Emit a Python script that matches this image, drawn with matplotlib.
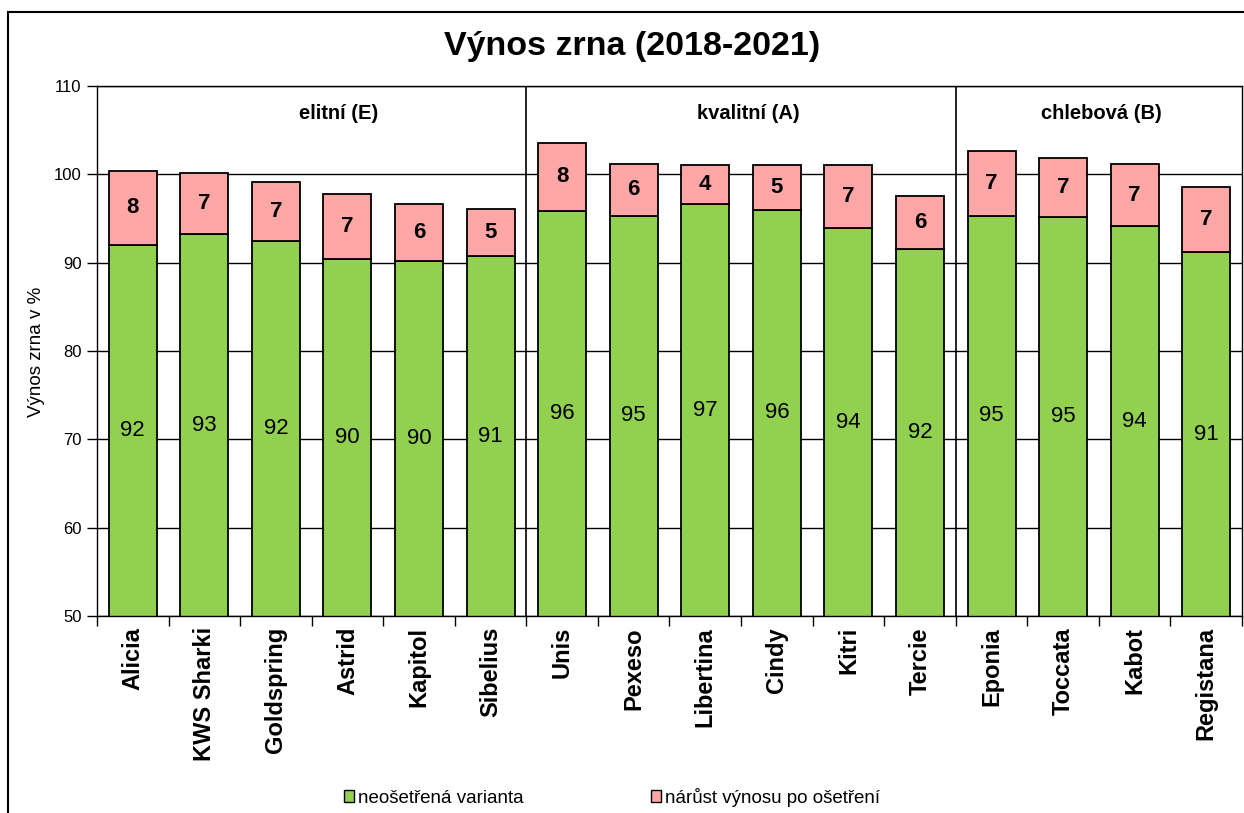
import matplotlib
matplotlib.use("Agg")
import matplotlib.pyplot as plt
from matplotlib.patches import Patch, Rectangle

plt.rcParams["font.family"] = ["Liberation Sans", "DejaVu Sans"]

# data
varieties = ["Alicia", "KWS Sharki", "Goldspring", "Astrid", "Kapitol", "Sibelius",
             "Unis", "Pexeso", "Libertina", "Cindy", "Kitri", "Tercie",
             "Eponia", "Toccata", "Kabot", "Registana"]
untreated = [92.0, 93.2, 92.4, 90.4, 90.2, 90.7,
             95.8, 95.3, 96.6, 96.0, 93.9, 91.6,
             95.3, 95.2, 94.1, 91.2]
increase = [8.4, 6.9, 6.7, 7.4, 6.4, 5.4,
            7.8, 5.9, 4.4, 5.0, 7.1, 5.9,
            7.3, 6.6, 7.1, 7.4]
groups = ["elitní (E)", "kvalitní (A)", "chlebová (B)"]
group_sizes = [6, 6, 4]
series_names = ["neošetřená varianta", "nárůst výnosu po ošetření"]

green = "#92D050"
pink = "#FFA6A6"

W, H = 1244, 813
fig = plt.figure(figsize=(W / 100, H / 100), dpi=100)
ax = fig.add_axes([97 / W, 1 - 616 / H, (1242 - 97) / W, (616 - 86) / H])

x = list(range(len(varieties)))
ax.bar(x, untreated, width=0.67, bottom=0, color=green, edgecolor="black", linewidth=1.3, zorder=2)
ax.bar(x, increase, width=0.67, bottom=untreated, color=pink, edgecolor="black", linewidth=1.3, zorder=2)

ax.set_ylim(50, 110)
ax.set_xlim(-0.5, len(varieties) - 0.5)
ax.set_yticks(range(50, 111, 10))
ax.yaxis.grid(True, color="black", linewidth=1)
ax.set_axisbelow(True)
for s in ax.spines.values():
    s.set_linewidth(1)

# value labels
for i in x:
    ax.text(i, (50 + untreated[i]) / 2, f"{untreated[i]:.0f}", ha="center", va="center",
            fontsize=16, zorder=3)
    ax.text(i, untreated[i] + increase[i] / 2, f"{increase[i]:.0f}", ha="center", va="center",
            fontsize=16, fontweight="bold", zorder=3)

# group separators and names
edge = -0.5
label_x = [2.88, 8.60, 13.53]
for k, (name, size) in enumerate(zip(groups, group_sizes)):
    if k > 0:
        ax.axvline(edge, color="black", linewidth=1.2, zorder=1)
    ax.text(label_x[k], 106.9, name, ha="center", va="center", fontsize=14.5, fontweight="bold")
    edge += size

# x axis: labels at bars, ticks between bars
ax.set_xticks(x)
ax.set_xticklabels(varieties, rotation=90, fontsize=17, fontweight="bold")
ax.set_xticks([i - 0.5 for i in range(len(varieties) + 1)], minor=True)
ax.tick_params(axis="x", which="major", length=0, pad=8)
ax.tick_params(axis="x", which="minor", length=7, width=1)
ax.tick_params(axis="y", length=7, width=1, labelsize=12, pad=4)

ax.set_ylabel("Výnos zrna v %", fontsize=13.5)
ax.yaxis.set_label_coords(-(97 - 45) / (1242 - 97), (616 - 352) / (616 - 86))

fig.text(632 / W, 1 - 47 / H, "Výnos zrna (2018-2021)", ha="center", va="center",
         fontsize=24.5, fontweight="bold")

handles = [Patch(facecolor=green, edgecolor="black", linewidth=1),
           Patch(facecolor=pink, edgecolor="black", linewidth=1)]
fig.legend(handles, series_names, loc="center", bbox_to_anchor=(612 / W, 1 - 797 / H),
           ncol=2, frameon=False, fontsize=13.5, handlelength=0.55, handleheight=0.55,
           handletextpad=0.2, columnspacing=6.8)

# outer chart frame
fig.add_artist(Rectangle((8 / W, -0.05), 1.2, 1 - 12.5 / H + 0.05, transform=fig.transFigure,
                         fill=False, edgecolor="black", linewidth=1.5))

fig.savefig("out.png", dpi=100)
